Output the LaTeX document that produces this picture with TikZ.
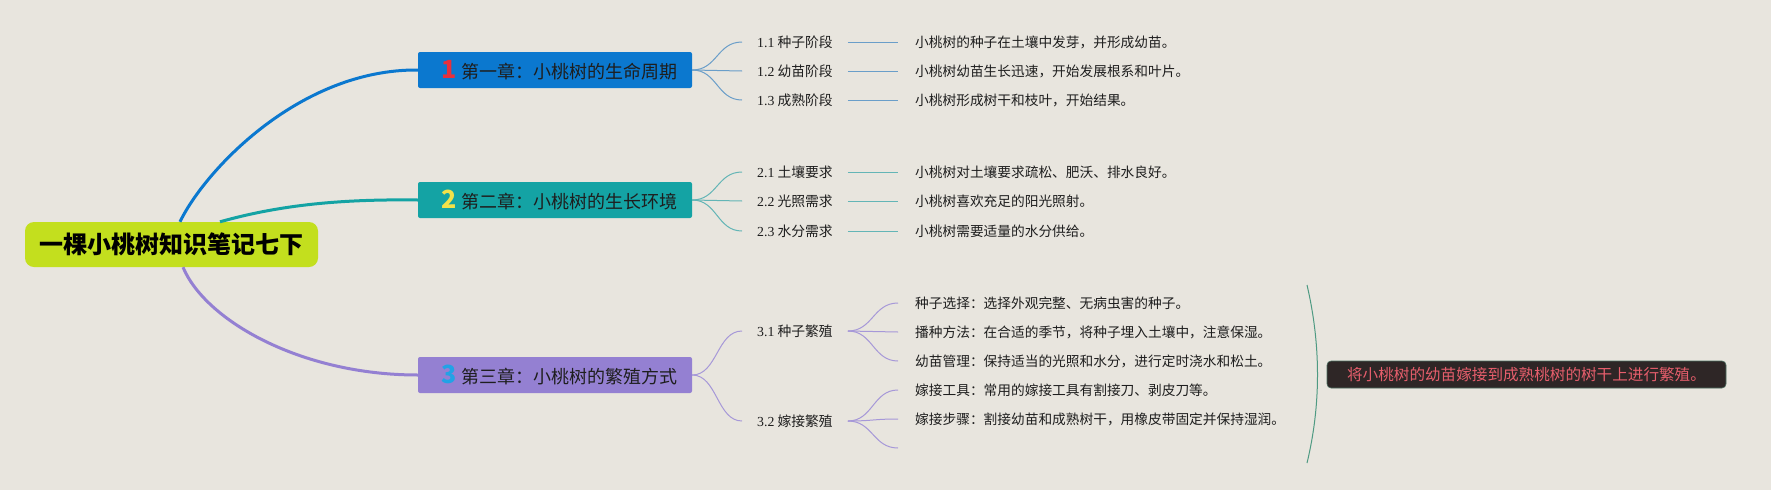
\documentclass[tikz,border=0pt]{standalone}
\usepackage{fontspec}
\setmainfont{Noto Sans CJK SC}
\newfontfamily\cjkf{Noto Sans CJK SC}
\newfontfamily\numserif{Liberation Serif}
\definecolor{bg}{HTML}{E8E5DE}
\definecolor{rootc}{HTML}{C3DF1E}
\definecolor{chA}{HTML}{0B78CF}
\definecolor{chB}{HTML}{14A3A4}
\definecolor{chC}{HTML}{9480D2}
\definecolor{subA}{HTML}{6A9EC9}
\definecolor{subB}{HTML}{63B5B6}
\definecolor{subC}{HTML}{A698D8}
\definecolor{numA}{HTML}{E8303C}
\definecolor{numB}{HTML}{F2E24A}
\definecolor{numC}{HTML}{22A2E6}
\definecolor{txt}{HTML}{1E1E1E}
\definecolor{bracec}{HTML}{4E9A82}
\definecolor{sumfill}{HTML}{2E2626}
\definecolor{sumtxt}{HTML}{E65E6C}
\definecolor{sumedge}{HTML}{4C6E60}
\begin{document}
\begin{tikzpicture}[x=1pt,y=-1pt,
  rootbox/.style={fill=rootc, rounded corners=9pt, minimum width=293pt, minimum height=45pt, inner sep=0pt,
    font=\fontsize{24}{28}\selectfont\bfseries, text=black},
  chapbox/.style={rounded corners=2pt, minimum width=274pt, minimum height=36pt, inner sep=0pt,
    font=\fontsize{18}{20}\selectfont, text=txt},
  sublabel/.style={anchor=west, inner xsep=15pt, inner ysep=2pt, font=\fontsize{13.8}{16}\selectfont, text=txt},
  desc/.style={anchor=west, inner xsep=17pt, inner ysep=2pt, font=\fontsize{13.7}{16}\selectfont, text=txt},
  mainline/.style={line width=3pt},
  subline/.style={line width=1pt},
  bracel/.style={line width=1pt, draw=bracec},
  summbox/.style={fill=sumfill, draw=sumedge, line width=0.6pt, rounded corners=4pt, minimum width=399pt,
    minimum height=27pt, inner sep=0pt, font=\fontsize{15.6}{18}\selectfont, text=sumtxt}
]
\fill[bg] (0,0) rectangle (1771,490);

% root
\node[rootbox] (root) at (171.5,244.5) {一棵小桃树知识笔记七下};

% chapters
\node[chapbox, fill=chA] (ch1) at (555,70) {\hspace*{9pt}{\color{numA}\bfseries\fontsize{25}{25}\selectfont 1}\hspace{5pt}第一章：小桃树的生命周期};
\node[chapbox, fill=chB] (ch2) at (555,200) {\hspace*{9pt}{\color{numB}\bfseries\fontsize{25}{25}\selectfont 2}\hspace{5pt}第二章：小桃树的生长环境};
\node[chapbox, fill=chC] (ch3) at (555,375) {\hspace*{9pt}{\color{numC}\bfseries\fontsize{25}{25}\selectfont 3}\hspace{5pt}第三章：小桃树的繁殖方式};

% main connectors
\draw[mainline, chA] ([xshift=8.5pt]root.north) .. controls (205,170) and (300,69) .. (ch1.west);
\draw[mainline, chB] ([xshift=48.5pt]root.north) .. controls (280,205) and (340,199) .. (ch2.west);
\draw[mainline, chC] ([xshift=11.5pt]root.south) .. controls (205,320) and (300,375) .. (ch3.west);

% chapter 1 sub
\node[sublabel] (s11) at (742,42) {{\numserif 1.1} 种子阶段};
\node[sublabel] (s12) at (742,71) {{\numserif 1.2} 幼苗阶段};
\node[sublabel] (s13) at (742,100) {{\numserif 1.3} 成熟阶段};
\node[desc] (d11) at (898,42) {小桃树的种子在土壤中发芽，并形成幼苗。};
\node[desc] (d12) at (898,71) {小桃树幼苗生长迅速，开始发展根系和叶片。};
\node[desc] (d13) at (898,100) {小桃树形成树干和枝叶，开始结果。};
\foreach \s in {s11,s12,s13}
  \draw[subline, subA] (ch1.east) .. controls +(25,0) and +(-25,0) .. (\s.west);
\draw[subline, subA] (s11.east) -- (d11.west);
\draw[subline, subA] (s12.east) -- (d12.west);
\draw[subline, subA] (s13.east) -- (d13.west);

% chapter 2 sub
\node[sublabel] (s21) at (742,172) {{\numserif 2.1} 土壤要求};
\node[sublabel] (s22) at (742,201) {{\numserif 2.2} 光照需求};
\node[sublabel] (s23) at (742,231) {{\numserif 2.3} 水分需求};
\node[desc] (d21) at (898,172) {小桃树对土壤要求疏松、肥沃、排水良好。};
\node[desc] (d22) at (898,201) {小桃树喜欢充足的阳光照射。};
\node[desc] (d23) at (898,231) {小桃树需要适量的水分供给。};
\foreach \s in {s21,s22,s23}
  \draw[subline, subB] (ch2.east) .. controls +(25,0) and +(-25,0) .. (\s.west);
\draw[subline, subB] (s21.east) -- (d21.west);
\draw[subline, subB] (s22.east) -- (d22.west);
\draw[subline, subB] (s23.east) -- (d23.west);

% chapter 3 sub
\node[sublabel] (s31) at (742,331) {{\numserif 3.1} 种子繁殖};
\node[sublabel] (s32) at (742,421) {{\numserif 3.2} 嫁接繁殖};
\draw[subline, subC] (ch3.east) .. controls +(25,0) and +(-25,0) .. (s31.west);
\draw[subline, subC] (ch3.east) .. controls +(25,0) and +(-25,0) .. (s32.west);

\node[desc] (i1) at (898,303) {种子选择：选择外观完整、无病虫害的种子。};
\node[desc] (i2) at (898,332) {播种方法：在合适的季节，将种子埋入土壤中，注意保湿。};
\node[desc] (i3) at (898,361) {幼苗管理：保持适当的光照和水分，进行定时浇水和松土。};
\node[desc] (i4) at (898,390) {嫁接工具：常用的嫁接工具有割接刀、剥皮刀等。};
\node[desc] (i5) at (898,419) {嫁接步骤：割接幼苗和成熟树干，用橡皮带固定并保持湿润。};
\coordinate (i6) at (898,448);
\foreach \s in {i1,i2,i3}
  \draw[subline, subC] (s31.east) .. controls +(25,0) and +(-25,0) .. (\s.west);
\foreach \s in {i4,i5}
  \draw[subline, subC] (s32.east) .. controls +(25,0) and +(-25,0) .. (\s.west);
\draw[subline, subC] (s32.east) .. controls +(25,0) and +(-25,0) .. (i6);

% summary
\draw[bracel] (1307,285) .. controls (1321,345) and (1321,405) .. (1307,463);
\node[summbox] (sum) at (1526.5,374.5) {将小桃树的幼苗嫁接到成熟桃树的树干上进行繁殖。};
\end{tikzpicture}
\end{document}
